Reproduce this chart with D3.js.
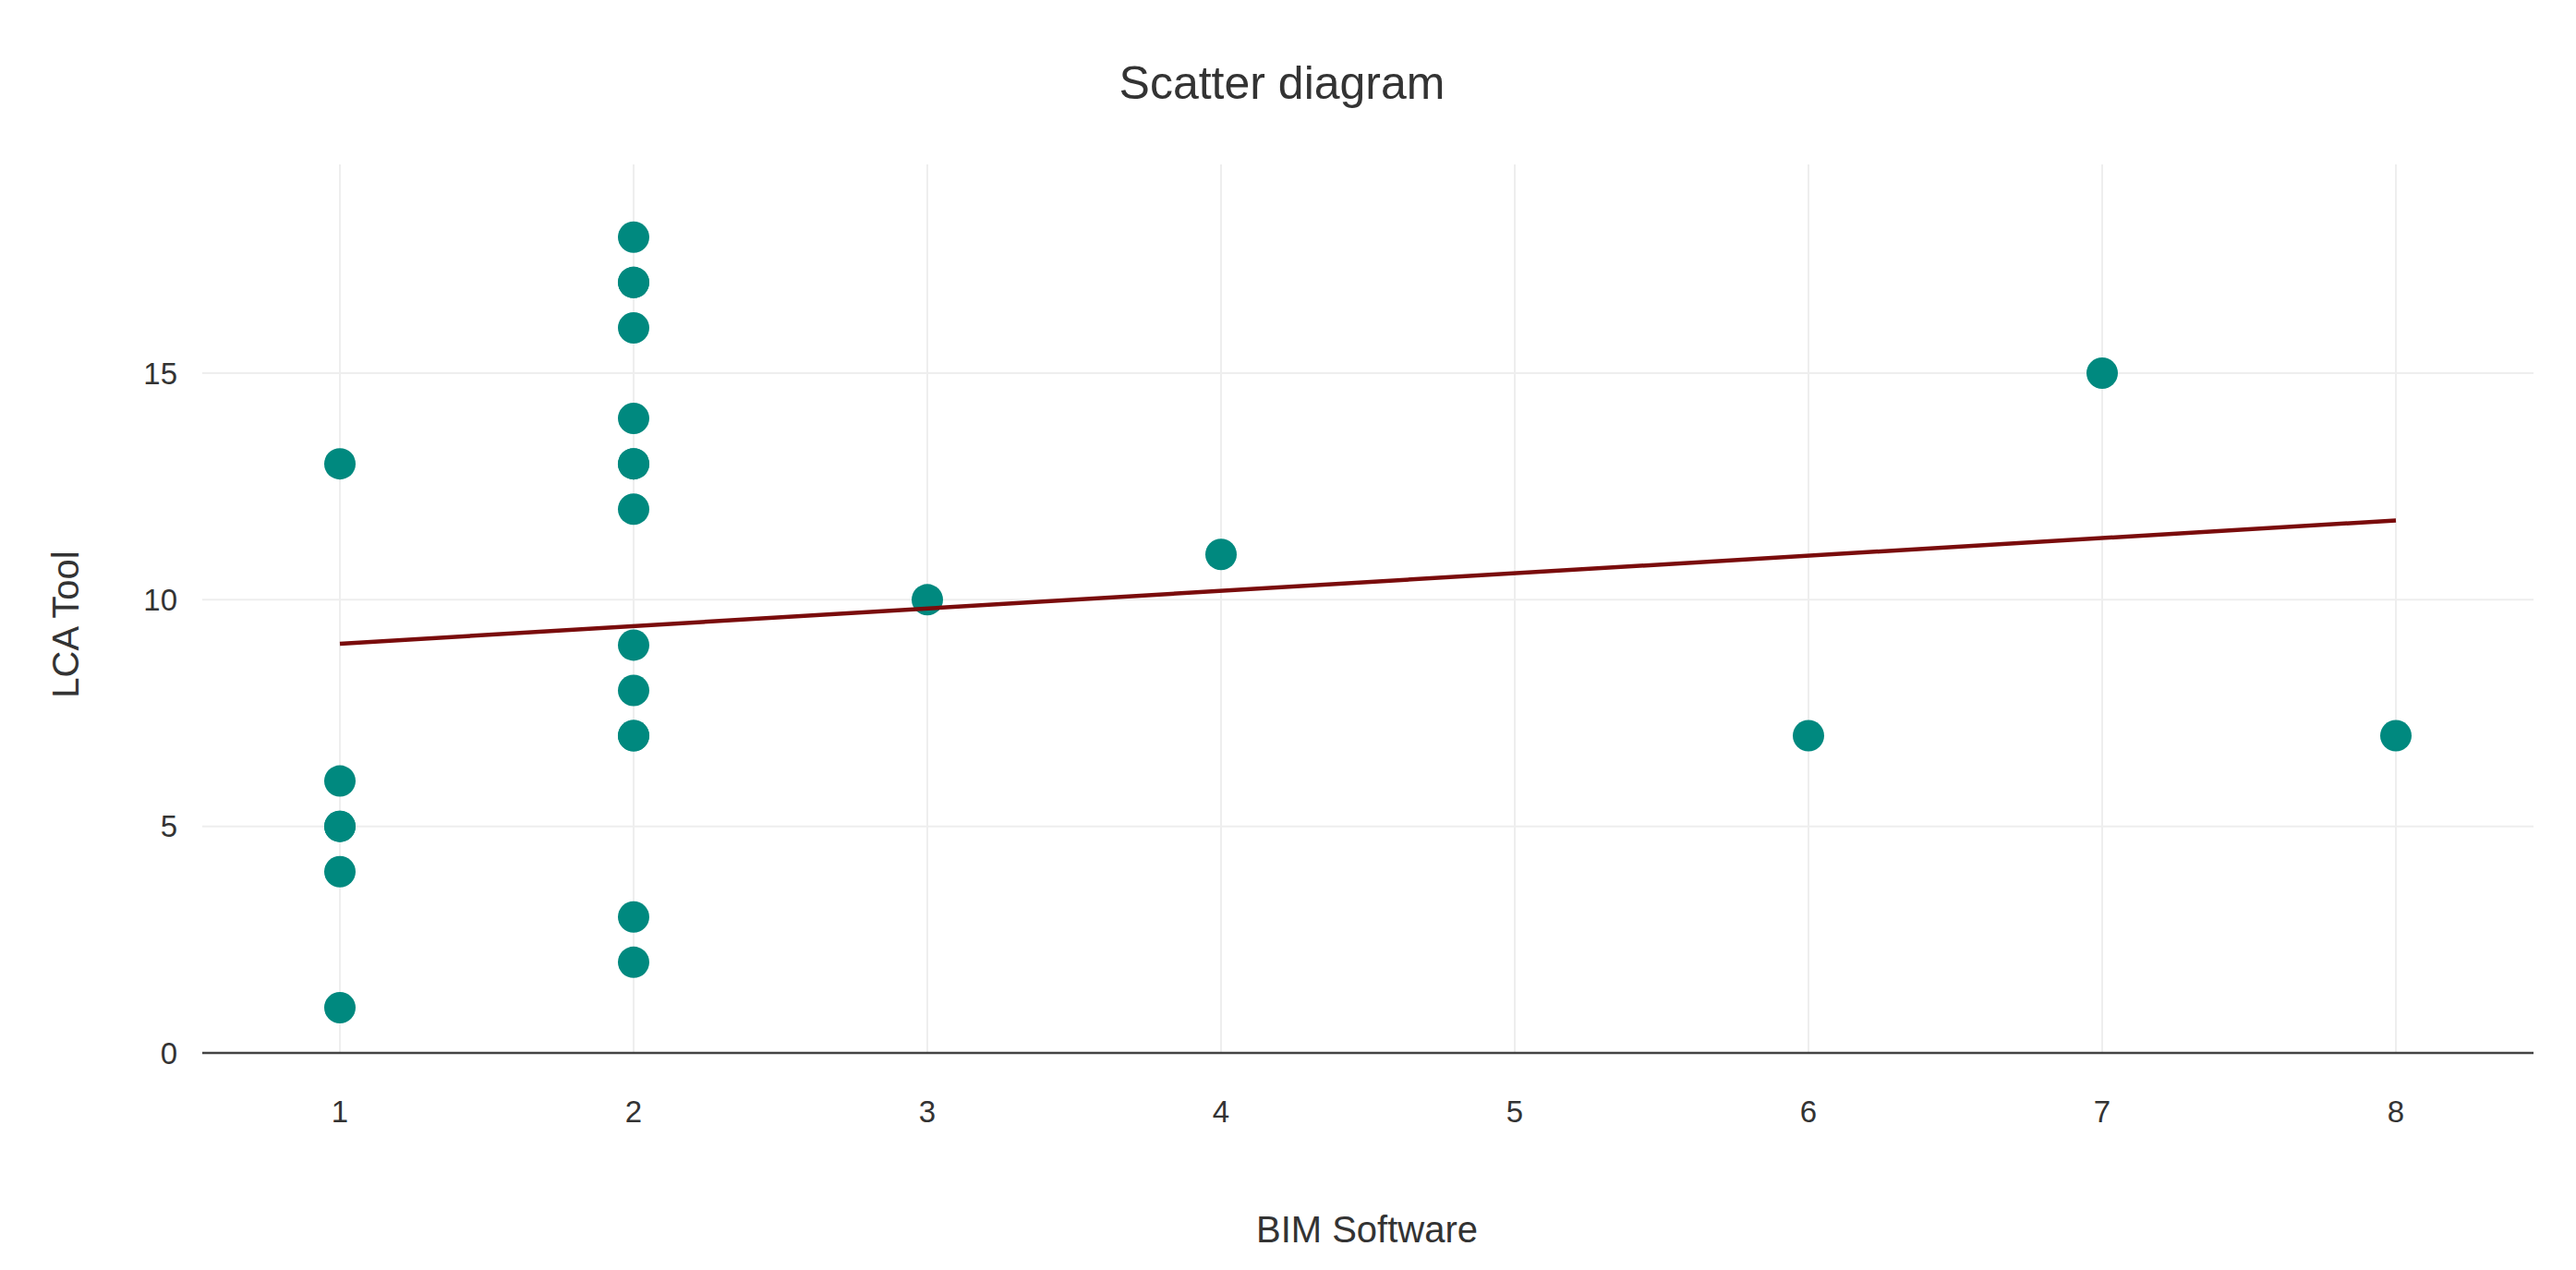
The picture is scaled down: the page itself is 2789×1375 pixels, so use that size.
<!DOCTYPE html><html><head><meta charset="utf-8"><script src="https://cdn.jsdelivr.net/npm/d3@7"></script>
<style>body{margin:0;background:#fff}text{font-family:"Liberation Sans",Arial,sans-serif;fill:#333}</style></head><body>
<svg id="c" width="2789" height="1375"></svg>
<script>
const xs=[1,1,1,1,1,1,2,2,2,2,2,2,2,2,2,2,2,2,2,2,3,4,6,7,8];
const ys=[13,6,5,5,4,1,18,17,17,16,14,13,13,12,9,8,7,7,3,2,10,11,7,15,7];
const fitX=[1,8];
const fitY=[9.03,11.75];
const xTicks=[1,2,3,4,5,6,7,8];
const yTicks=[0,5,10,15];
const svg=d3.select("#c");
const x=d3.scaleLinear().domain([1,8]).range([368,2594]);
const y=d3.scaleLinear().domain([0,15]).range([1140,404]);
const L=219,R=2743,T=178;
svg.append("g").selectAll("line").data(xTicks).join("line").attr("x1",d=>x(d)).attr("x2",d=>x(d)).attr("y1",T).attr("y2",1140).attr("stroke","#eee").attr("stroke-width",2);
svg.append("g").selectAll("line").data(yTicks.slice(1)).join("line").attr("x1",L).attr("x2",R).attr("y1",d=>y(d)).attr("y2",d=>y(d)).attr("stroke","#eee").attr("stroke-width",2);
svg.append("line").attr("x1",L).attr("x2",R).attr("y1",y(0)).attr("y2",y(0)).attr("stroke","#444").attr("stroke-width",2.5);
svg.append("g").selectAll("text").data(yTicks).join("text").attr("x",192).attr("y",d=>y(d)).attr("dy","0.35em").attr("text-anchor","end").attr("font-size",33).text(d=>d);
svg.append("g").selectAll("text").data(xTicks).join("text").attr("x",d=>x(d)).attr("y",1203).attr("dy","0.35em").attr("text-anchor","middle").attr("font-size",33).text(d=>d);
svg.append("g").selectAll("circle").data(xs.map((v,i)=>[v,ys[i]])).join("circle").attr("cx",d=>x(d[0])).attr("cy",d=>y(d[1])).attr("r",17).attr("fill","#00897f");
svg.append("path").attr("d",d3.line()(fitX.map((v,i)=>[x(v),y(fitY[i])]))).attr("stroke","#7a0c0c").attr("stroke-width",4.5).attr("fill","none");
svg.append("text").attr("x",1388).attr("y",89).attr("dy","0.35em").attr("text-anchor","middle").attr("font-size",50).text("Scatter diagram");
svg.append("text").attr("x",1480).attr("y",1331).attr("dy","0.35em").attr("text-anchor","middle").attr("font-size",40).text("BIM Software");
svg.append("text").attr("transform","translate(71,676) rotate(-90)").attr("dy","0.35em").attr("text-anchor","middle").attr("font-size",40).text("LCA Tool");
</script></body></html>
